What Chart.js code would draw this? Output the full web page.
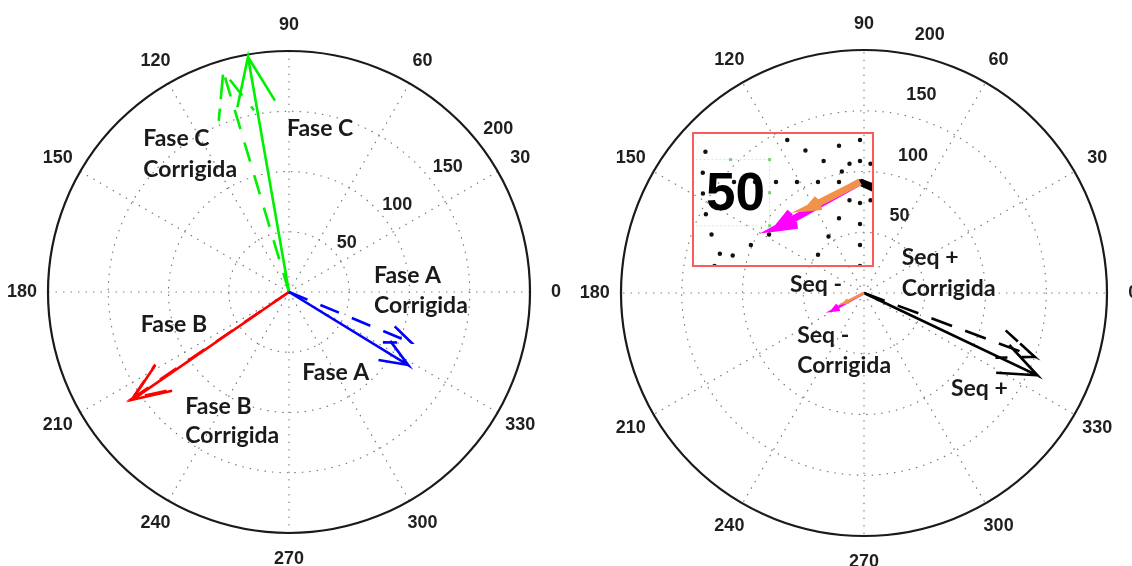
<!DOCTYPE html>
<html>
<head>
<meta charset="utf-8">
<script src="https://cdn.jsdelivr.net/npm/chart.js@4.4.0/dist/chart.umd.min.js"></script>
<style>
    html, body { margin: 0; padding: 0; background: #fff; }
    #wrap { position: relative; width: 1132px; height: 566px; overflow: hidden; }
    canvas { position: absolute; }
</style>
</head>
<body>
<div id="wrap">
    <canvas id="leftCompass" width="566" height="566" style="left:0;top:0"></canvas>
    <canvas id="rightCompass" width="566" height="566" style="left:566px;top:0"></canvas>
    <canvas id="insetZoom" width="182" height="135" style="left:692px;top:132px"></canvas>
</div>
<script>
// polar axes
const angleTicks = [0, 30, 60, 90, 120, 150, 180, 210, 240, 270, 300, 330];
const radialTicks = [50, 100, 150, 200];

// left: phase vectors (magnitude, angle in degrees)
const faseNames = ['Fase A', 'Fase A Corrigida', 'Fase B', 'Fase B Corrigida', 'Fase C', 'Fase C Corrigida'];
const faseMag = [116, 110, 158, 157, 198, 191];
const faseAng = [328.5, 337.5, 214.5, 214.2, 99.9, 106.6];
const faseColors = ['#0000ff', '#0000ff', '#ff0000', '#ff0000', '#00f000', '#00f000'];
const faseDashed = [false, true, false, true, false, true];

// right: sequence vectors
const seqNames = ['Seq -', 'Seq - Corrigida', 'Seq +', 'Seq + Corrigida'];
const seqMag = [18, 30, 158, 150];
const seqAng = [207, 209, 334.6, 339.5];
const seqColors = ['#f0924a', '#ff00ff', '#000000', '#000000'];
const seqDashed = [false, false, false, true];

// text notes (data units)
const leftNotes = [
    {text: 'Fase C', x: -1.7, y: 136},
    {text: 'Fase C', x: -121, y: 127},
    {text: 'Corrigida', x: -121, y: 102},
    {text: 'Fase A', x: 70.5, y: 14},
    {text: 'Corrigida', x: 70.5, y: -11},
    {text: 'Fase B', x: -123, y: -27},
    {text: 'Fase A', x: 11, y: -67},
    {text: 'Fase B', x: -86, y: -95},
    {text: 'Corrigida', x: -86, y: -119.5}
];
const rightNotes = [
    {text: 'Seq +', x: 31, y: 29},
    {text: 'Corrigida', x: 31, y: 4},
    {text: 'Seq -', x: -61, y: 6.6},
    {text: 'Seq -', x: -55, y: -35},
    {text: 'Corrigida', x: -55, y: -60},
    {text: 'Seq +', x: 71.6, y: -79}
];

// compass arrow like matlab: shaft plus two barbs
const compassArrow = (mag, angDeg) => {
    const t = angDeg * Math.PI / 180;
    const c = Math.cos(t), s = Math.sin(t);
    const a = [0, 1, 0.8, 1, 0.8];
    const b = [0, 0, 0.08, 0, -0.08];
    return a.map((ai, i) => ({
        x: mag * (ai * c - b[i] * s),
        y: mag * (ai * s + b[i] * c)
    }));
};

const buildDatasets = (names, mags, angs, colors, dashed, width, dash) => names.map((name, i) => ({
    label: name,
    data: compassArrow(mags[i], angs[i]),
    showLine: true,
    borderColor: colors[i],
    backgroundColor: colors[i],
    borderWidth: width,
    borderDash: dashed[i] ? dash : [],
    pointRadius: 0,
    tension: 0,
    fill: false
}));

// axis range so that center sits at (cx, cy) with k px per unit
const rangeFor = (w, h, cx, cy, k) => ({
    x: {display: false, min: -cx / k, max: (w - cx) / k},
    y: {display: false, min: -(h - cy) / k, max: cy / k}
});

const polarGrid = {
    id: 'polarGrid',
    beforeDatasetsDraw(chart, args, opts) {
        const {ctx, scales: {x, y}} = chart;
        const cx = x.getPixelForValue(0), cy = y.getPixelForValue(0);
        const k = x.getPixelForValue(1) - cx;
        const rMax = radialTicks[radialTicks.length - 1];
        ctx.save();
        ctx.beginPath();
        ctx.rect(chart.chartArea.left, chart.chartArea.top, chart.chartArea.width, chart.chartArea.height);
        ctx.clip();
        ctx.strokeStyle = opts.gridColor;
        ctx.lineWidth = opts.gridWidth;
        ctx.lineCap = 'round';
        ctx.setLineDash(opts.dash);
        radialTicks.slice(0, -1).forEach(v => {
            ctx.beginPath();
            ctx.arc(cx, cy, v * k, 0, 2 * Math.PI);
            ctx.stroke();
        });
        angleTicks.forEach(a => {
            const t = a * Math.PI / 180;
            ctx.beginPath();
            ctx.moveTo(cx, cy);
            ctx.lineTo(cx + rMax * k * Math.cos(t), cy - rMax * k * Math.sin(t));
            ctx.stroke();
        });
        if (opts.outer) {
            ctx.setLineDash([]);
            ctx.strokeStyle = '#1a1a1a';
            ctx.lineWidth = 2.2;
            ctx.beginPath();
            ctx.arc(cx, cy, rMax * k, 0, 2 * Math.PI);
            ctx.stroke();
        }
        if (opts.labels) {
            ctx.fillStyle = '#1f1f1f';
            ctx.font = 'bold 18px "Liberation Sans", Arial, sans-serif';
            ctx.textAlign = 'center';
            ctx.textBaseline = 'middle';
            angleTicks.forEach(a => {
                const t = a * Math.PI / 180;
                const r = rMax * 1.108 * k;
                ctx.fillText(String(a), cx + r * Math.cos(t), cy - r * Math.sin(t));
            });
            const rl = opts.rLabel;
            const rt = rl.angle * Math.PI / 180;
            ctx.textAlign = rl.align;
            radialTicks.forEach(v => {
                const px = x.getPixelForValue(v * rl.scale * Math.cos(rt) + rl.dx);
                const py = y.getPixelForValue(v * rl.scale * Math.sin(rt) + rl.dy);
                ctx.fillText(String(v), px, py);
            });
        }
        ctx.restore();
    },
    afterDatasetsDraw(chart, args, opts) {
        if (!opts.notes) return;
        const {ctx, scales: {x, y}} = chart;
        ctx.save();
        ctx.fillStyle = '#1a1a1a';
        ctx.font = 'bold 23px Lato, "Open Sans", sans-serif';
        ctx.textAlign = 'left';
        ctx.textBaseline = 'middle';
        opts.notes.forEach(n => ctx.fillText(n.text, x.getPixelForValue(n.x), y.getPixelForValue(n.y)));
        ctx.restore();
    }
};

const baseOptions = (scales, gridOpts) => ({
    responsive: false,
    animation: false,
    events: [],
    layout: {padding: 0},
    plugins: {
        legend: {display: false},
        tooltip: {enabled: false},
        polarGrid: gridOpts
    },
    scales: scales
});

const leftChart = new Chart(document.getElementById('leftCompass').getContext('2d'), {
    type: 'scatter',
    data: {datasets: buildDatasets(faseNames, faseMag, faseAng, faseColors, faseDashed, 2.6, [20, 14])},
    options: baseOptions(rangeFor(566, 566, 289, 292, 1.205), {
        gridColor: '#777', gridWidth: 1.2, dash: [0.5, 7], outer: true, labels: true,
        rLabel: {angle: 37, scale: 1.05, dx: 6, dy: 9, align: 'center'},
        notes: leftNotes
    }),
    plugins: [polarGrid]
});

const rightChart = new Chart(document.getElementById('rightCompass').getContext('2d'), {
    type: 'scatter',
    data: {datasets: buildDatasets(seqNames, seqMag, seqAng, seqColors, seqDashed, 2.6, [22, 14])},
    options: baseOptions(rangeFor(566, 566, 298, 293, 1.215), {
        gridColor: '#777', gridWidth: 1.2, dash: [0.5, 7], outer: true, labels: true,
        rLabel: {angle: 82, scale: 1, dx: 14, dy: 14, align: 'left'},
        notes: rightNotes
    }),
    plugins: [polarGrid]
});

// zoomed inset around the origin of the right plot
const insetExtras = {
    id: 'insetExtras',
    afterDatasetsDraw(chart) {
        const {ctx, scales: {x, y}, chartArea: area} = chart;
        ctx.save();
        // selection box around the big label
        const bx0 = x.getPixelForValue(-53.5), bx1 = x.getPixelForValue(-28.7);
        const by0 = y.getPixelForValue(7.1), by1 = y.getPixelForValue(-13.9);
        ctx.strokeStyle = '#c8f0c8';
        ctx.lineWidth = 1;
        ctx.setLineDash([2, 2]);
        ctx.strokeRect(bx0, by0, bx1 - bx0, by1 - by0);
        ctx.setLineDash([]);
        ctx.fillStyle = '#7ad07a';
        [[bx0, by0], [bx1, by0], [bx0, by1], [bx1, by1], [bx1, (by0 + by1) / 2], [(bx0 + bx1) / 2, by0]]
            .forEach(([hx, hy]) => ctx.fillRect(hx - 1.5, hy - 1.5, 3, 3));
        ctx.fillStyle = '#000';
        ctx.font = 'bold 53px "Liberation Sans", Arial, sans-serif';
        ctx.textAlign = 'center';
        ctx.textBaseline = 'middle';
        ctx.fillText('50', x.getPixelForValue(-39.5), y.getPixelForValue(-3.5) + 2);
        ctx.strokeStyle = '#ff5a5a';
        ctx.lineWidth = 2;
        ctx.strokeRect(area.left + 1, area.top + 1, area.width - 2, area.height - 2);
        ctx.restore();
    }
};

const insetChart = new Chart(document.getElementById('insetZoom').getContext('2d'), {
    type: 'scatter',
    data: {datasets: buildDatasets(seqNames, seqMag, seqAng, seqColors, seqDashed, 7, [60, 40])},
    options: baseOptions(rangeFor(182, 135, 168, 50, 3.15), {
        gridColor: '#111', gridWidth: 4.5, dash: [0, 21], outer: false, labels: false
    }),
    plugins: [polarGrid, insetExtras]
});
</script>
</body>
</html>
